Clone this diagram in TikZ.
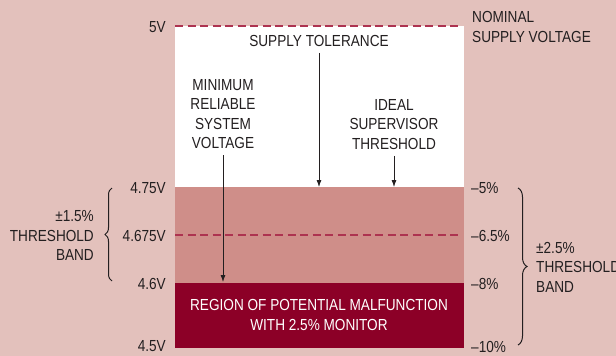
\documentclass[tikz,border=0pt]{standalone}
\usepackage{fontspec}
\setmainfont[FakeStretch=0.85]{Liberation Sans}
\usetikzlibrary{decorations.pathreplacing,arrows.meta}
\definecolor{bgpink}{HTML}{E3C1BC}
\definecolor{midband}{HTML}{CF8E89}
\definecolor{darkband}{HTML}{8C0027}
\definecolor{dashcol}{HTML}{AD3350}
\definecolor{ink}{HTML}{231F20}
\begin{document}
\begin{tikzpicture}[x=1pt,y=-1pt,
  font=\fontsize{16}{19.5}\selectfont,
  lbl/.style={inner sep=0pt, text=ink, align=center},
  lblr/.style={inner sep=0pt, text=ink, align=right},
  lbll/.style={inner sep=0pt, text=ink, align=left},
  dashline/.style={draw=dashcol, line width=1.6pt, dash pattern=on 8pt off 4.5pt},
  arr/.style={draw=ink, line width=0.8pt, -{Latex[length=7pt,width=5pt]}},
  bracestyle/.style={draw=ink, line width=1pt, decorate}]
\useasboundingbox (0,0) rectangle (616,356);
\fill[bgpink] (0,0) rectangle (616,356);
% bands
\fill[white] (175,26) rectangle (464,187);
\fill[midband] (175,187) rectangle (464,283);
\fill[darkband] (175,283) rectangle (464,348);
\coordinate (d1a) at (175,26); \coordinate (d1b) at (459,26);
\coordinate (d2a) at (175,235); \coordinate (d2b) at (459,235);
\draw[dashline] (d1a) -- (d1b);
\draw[dashline] (d2a) -- (d2b);
% left voltage labels
\node[lblr, anchor=east] (v5) at (166,27.5) {5V};
\node[lblr, anchor=east] (v475) at (166,188) {4.75V};
\node[lblr, anchor=east] (v4675) at (166,235.5) {4.675V};
\node[lblr, anchor=east] (v46) at (166,284) {4.6V};
\node[lblr, anchor=east] (v45) at (166,346.5) {4.5V};
% right percent labels
\node[lbll, anchor=west] (p5) at (471,188) {–5\%};
\node[lbll, anchor=west] (p65) at (471,235.5) {–6.5\%};
\node[lbll, anchor=west] (p8) at (471,284) {–8\%};
\node[lbll, anchor=west] (p10) at (471,347) {–10\%};
% nominal
\node[lbll, anchor=west] (nom) at (472,27) {NOMINAL\\SUPPLY VOLTAGE};
% inner labels
\node[lbl] (tol) at (319,41) {SUPPLY TOLERANCE};
\node[lbl] (minv) at (223,114) {MINIMUM\\RELIABLE\\SYSTEM\\VOLTAGE};
\node[lbl] (ideal) at (394,124.5) {IDEAL\\SUPERVISOR\\THRESHOLD};
\node[lbl, text=white] (region) at (319,315) {REGION OF POTENTIAL MALFUNCTION\\WITH 2.5\% MONITOR};
% arrows
\coordinate (tolE) at (319,187);
\coordinate (idealE) at (394,187);
\coordinate (minE) at (223,282);
\draw[arr, shorten <=6pt] (tol.south) -- (tolE);
\draw[arr, shorten <=6pt] (ideal.south) -- (idealE);
\draw[arr, shorten <=6pt] (minv.south) -- (minE);
% braces
\coordinate (lbA) at (112,281); \coordinate (lbB) at (112,188);
\draw[bracestyle, decoration={brace,amplitude=7pt}] (lbA) -- (lbB);
\node[lblr, anchor=east] (lband) at (94,235.5) {±1.5\%\\THRESHOLD\\BAND};
\coordinate (rbA) at (518,188); \coordinate (rbB) at (518,345);
\draw[bracestyle, decoration={brace,amplitude=9pt}] (rbA) -- (rbB);
\node[lbll, anchor=west] (rband) at (536,267) {±2.5\%\\THRESHOLD\\BAND};
\end{tikzpicture}
\end{document}
